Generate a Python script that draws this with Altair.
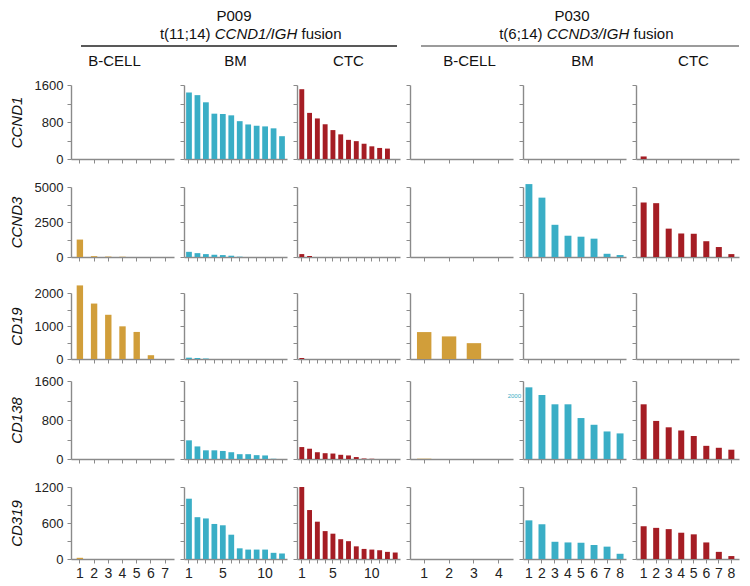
import altair as alt
import pandas as pd

FONT = "Liberation Sans"

# ---------------- categories ----------------
genes = ["CCND1", "CCND3", "CD19", "CD138", "CD319"]
patients = ["P009", "P009", "P009", "P030", "P030", "P030"]
sources = ["B-CELL", "BM", "CTC", "B-CELL", "BM", "CTC"]

pos_p009_bcell = [1, 2, 3, 4, 5, 6, 7]
pos_p009_bm = [1, 2, 3, 4, 5, 6, 7, 8, 9, 10, 11, 12]
pos_p009_ctc = [1, 2, 3, 4, 5, 6, 7, 8, 9, 10, 11, 12, 13]
pos_p030_bcell = [1, 2, 3, 4]
pos_p030_bm = [1, 2, 3, 4, 5, 6, 7, 8]
pos_p030_ctc = [1, 2, 3, 4, 5, 6, 7, 8]

# x tick labels that are printed (bottom row)
xlab_p009_bcell = ["1", "2", "3", "4", "5", "6", "7"]
xlab_p009_bm = ["1", "5", "10"]
xlab_p009_ctc = ["1", "5", "10"]
xlab_p030_bcell = ["1", "2", "3", "4"]
xlab_p030_bm = ["1", "2", "3", "4", "5", "6", "7", "8"]
xlab_p030_ctc = ["1", "2", "3", "4", "5", "6", "7", "8"]

# y ticks per gene row and printed labels
yticks_ccnd1 = [0, 400, 800, 1200, 1600]
yticks_ccnd3 = [0, 1250, 2500, 3750, 5000]
yticks_cd19 = [0, 500, 1000, 1500, 2000]
yticks_cd138 = [0, 400, 800, 1200, 1600]
yticks_cd319 = [0, 300, 600, 900, 1200]
ylab_ccnd1 = [0, 800, 1600]
ylab_ccnd3 = [0, 2500, 5000]
ylab_cd19 = [0, 1000, 2000]
ylab_cd138 = [0, 800, 1600]
ylab_cd319 = [0, 600, 1200]

# ---------------- values ----------------
ccnd1_p009_bcell = [0, 0, 0, 0, 0, 0, 0]
ccnd1_p009_bm = [1438, 1381, 1226, 980, 973, 944, 818, 747, 719, 705, 663, 493]
ccnd1_p009_ctc = [1509, 997, 877, 751, 625, 533, 414, 386, 330, 274, 239, 225, 0]
ccnd1_p030_bcell = [0, 0, 0, 0]
ccnd1_p030_bm = [0, 0, 0, 0, 0, 0, 0, 0]
ccnd1_p030_ctc = [55, 0, 0, 0, 0, 0, 0, 0]

ccnd3_p009_bcell = [1245, 60, 30, 20, 0, 0, 0]
ccnd3_p009_bm = [369, 276, 207, 161, 138, 92, 23, 0, 0, 0, 0, 0]
ccnd3_p009_ctc = [209, 70, 0, 0, 0, 0, 0, 0, 0, 0, 0, 0, 0]
ccnd3_p030_bcell = [0, 0, 0, 0]
ccnd3_p030_bm = [5208, 4240, 2300, 1520, 1450, 1310, 230, 140]
ccnd3_p030_ctc = [3893, 3845, 2026, 1680, 1660, 1127, 712, 207]

cd19_p009_bcell = [2230, 1680, 1340, 990, 820, 115, 0]
cd19_p009_bm = [40, 30, 15, 0, 0, 0, 0, 0, 0, 0, 0, 0]
cd19_p009_ctc = [30, 0, 0, 0, 0, 0, 0, 0, 0, 0, 0, 0, 0]
cd19_p030_bcell = [816, 685, 480, 0]
cd19_p030_bm = [0, 0, 0, 0, 0, 0, 0, 0]
cd19_p030_ctc = [0, 0, 0, 0, 0, 0, 0, 0]

cd138_p009_bcell = [0, 0, 0, 0, 0, 0, 0]
cd138_p009_bm = [383, 258, 178, 178, 165, 139, 99, 99, 79, 73, 5, 0]
cd138_p009_ctc = [245, 211, 139, 119, 112, 86, 73, 40, 10, 5, 0, 0, 0]
cd138_p030_bcell = [6, 0, 0, 0]
cd138_p030_bm = [1470, 1313, 1122, 1122, 840, 702, 565, 525]
cd138_p030_ctc = [1122, 781, 650, 585, 472, 270, 230, 191]

cd319_p009_bcell = [20, 0, 0, 0, 0, 0, 0]
cd319_p009_bm = [1005, 697, 676, 584, 562, 405, 178, 157, 157, 157, 103, 92]
cd319_p009_ctc = [1200, 816, 622, 465, 422, 330, 297, 211, 168, 157, 146, 119, 108]
cd319_p030_bcell = [0, 0, 0, 0]
cd319_p030_bm = [644, 579, 287, 276, 271, 233, 206, 87]
cd319_p030_ctc = [546, 519, 498, 438, 411, 276, 119, 49]

# ---------------- assembly tables ----------------
positions = [pos_p009_bcell, pos_p009_bm, pos_p009_ctc, pos_p030_bcell, pos_p030_bm, pos_p030_ctc]
xlabels = [xlab_p009_bcell, xlab_p009_bm, xlab_p009_ctc, xlab_p030_bcell, xlab_p030_bm, xlab_p030_ctc]
values = [
    [ccnd1_p009_bcell, ccnd1_p009_bm, ccnd1_p009_ctc, ccnd1_p030_bcell, ccnd1_p030_bm, ccnd1_p030_ctc],
    [ccnd3_p009_bcell, ccnd3_p009_bm, ccnd3_p009_ctc, ccnd3_p030_bcell, ccnd3_p030_bm, ccnd3_p030_ctc],
    [cd19_p009_bcell, cd19_p009_bm, cd19_p009_ctc, cd19_p030_bcell, cd19_p030_bm, cd19_p030_ctc],
    [cd138_p009_bcell, cd138_p009_bm, cd138_p009_ctc, cd138_p030_bcell, cd138_p030_bm, cd138_p030_ctc],
    [cd319_p009_bcell, cd319_p009_bm, cd319_p009_ctc, cd319_p030_bcell, cd319_p030_bm, cd319_p030_ctc],
]
yticks = [yticks_ccnd1, yticks_ccnd3, yticks_cd19, yticks_cd138, yticks_cd319]
ylabs = [ylab_ccnd1, ylab_ccnd3, ylab_cd19, ylab_cd138, ylab_cd319]

# ---------------- styling ----------------
colors = ["#D19E3A", "#3AAEC6", "#A51D24", "#D19E3A", "#3AAEC6", "#A51D24"]
pad_inner = [0.55, 0.32, 0.37, 0.42, 0.47, 0.52]
pad_outer = [0.40, 0.25, 0.30, 0.28, 0.19, 0.37]
PANEL_W = 103
row_heights = [74, 70, 66, 78, 72]
row_spacing = [13, 19, 7, 13]
AXIS_GRAY = "#8a8a8a"
title_offsets = [-8, 0, 0, 8, 8, 6]


def text_layer(txt, x, y, size=15, style="normal", align="center", color="#111111"):
    return alt.Chart(pd.DataFrame({"t": [txt]})).mark_text(
        font=FONT, fontSize=size, fontStyle=style, align=align, baseline="middle", color=color
    ).encode(text="t:N", x=alt.value(x), y=alt.value(y))


def rule_layer(x1, x2, y, color):
    return alt.Chart(pd.DataFrame({"t": [0]})).mark_rule(color=color, strokeWidth=1.3).encode(
        x=alt.value(x1), x2=alt.value(x2), y=alt.value(y)
    )


def panel(r, c):
    df = pd.DataFrame({"pos": positions[c], "value": values[r][c]})
    first = c == 0
    bottom = r == len(genes) - 1

    xax = dict(title="", labels=bottom, labelAngle=0, tickSize=4, tickColor=AXIS_GRAY,
               domainColor=AXIS_GRAY, domainWidth=1.4, tickWidth=1, grid=False)
    if bottom:
        lab = ",".join("'%s'" % s for s in xlabels[c])
        xax.update(labelExpr="indexof([%s], datum.label) >= 0 ? datum.label : ''" % lab,
                   labelFontSize=14, labelFont=FONT, labelColor="#222222", labelPadding=3)

    yax = dict(values=yticks[r], labels=first, tickSize=4, tickColor=AXIS_GRAY,
               domainColor=AXIS_GRAY, domainWidth=1.4, tickWidth=1, grid=False)
    if first:
        shown = ",".join(str(v) for v in ylabs[r])
        yax.update(title=genes[r], titleFontStyle="italic", titleFontSize=15, titleFont=FONT,
                   titleFontWeight="normal", titleColor="#111111", titlePadding=10,
                   format="d", labelExpr="indexof([%s], datum.value) >= 0 ? datum.label : ''" % shown,
                   labelFontSize=13, labelFont=FONT, labelColor="#222222", labelPadding=4)
    else:
        yax.update(title="")

    bars = alt.Chart(df).mark_bar(color=colors[c]).encode(
        x=alt.X("pos:O", scale=alt.Scale(domain=positions[c], paddingInner=pad_inner[c],
                                          paddingOuter=pad_outer[c]), axis=alt.Axis(**xax)),
        y=alt.Y("value:Q", scale=alt.Scale(domain=[0, yticks[r][-1]], nice=False, zero=True),
                axis=alt.Axis(**yax)),
    )

    layers = [bars]
    if r == 0:
        layers.append(text_layer(sources[c], PANEL_W / 2 + title_offsets[c], -24))
        if c == 1:
            layers.append(text_layer("P009", 50, -69))
            layers.append(text_layer("t(11;14)", 26.5, -51, align="right"))
            layers.append(text_layer("CCND1/IGH", 72, -51, style="italic"))
            layers.append(text_layer("fusion", 117.5, -51, align="left"))
            layers.append(rule_layer(-103, 213, -39, "#222222"))
        if c == 4:
            layers.append(text_layer("P030", 49, -69))
            layers.append(text_layer("t(6;14)", 19.5, -51, align="right"))
            layers.append(text_layer("CCND3/IGH", 65, -51, style="italic"))
            layers.append(text_layer("fusion", 110.5, -51, align="left"))
            layers.append(rule_layer(-102, 216, -39, "#7a7a7a"))
    if r == 3 and c == 4:
        layers.append(text_layer("2000", -2, 15, size=6, align="right", color="#3AAEC6"))

    if len(layers) == 1:
        return bars.properties(width=PANEL_W, height=row_heights[r])
    return alt.layer(*layers).properties(width=PANEL_W, height=row_heights[r])


rows = [
    alt.hconcat(*[panel(r, c) for c in range(6)], spacing=10, bounds="flush")
    for r in range(len(genes))
]

chart = rows[-1]
for r in range(len(genes) - 2, -1, -1):
    chart = alt.vconcat(rows[r], chart, spacing=row_spacing[r])

chart = chart.properties(padding={"left": 0, "top": 0, "right": 0, "bottom": 0}).configure_view(
    stroke="transparent"
)

chart.save("out.html", embed_options={"renderer": "svg", "actions": False})
